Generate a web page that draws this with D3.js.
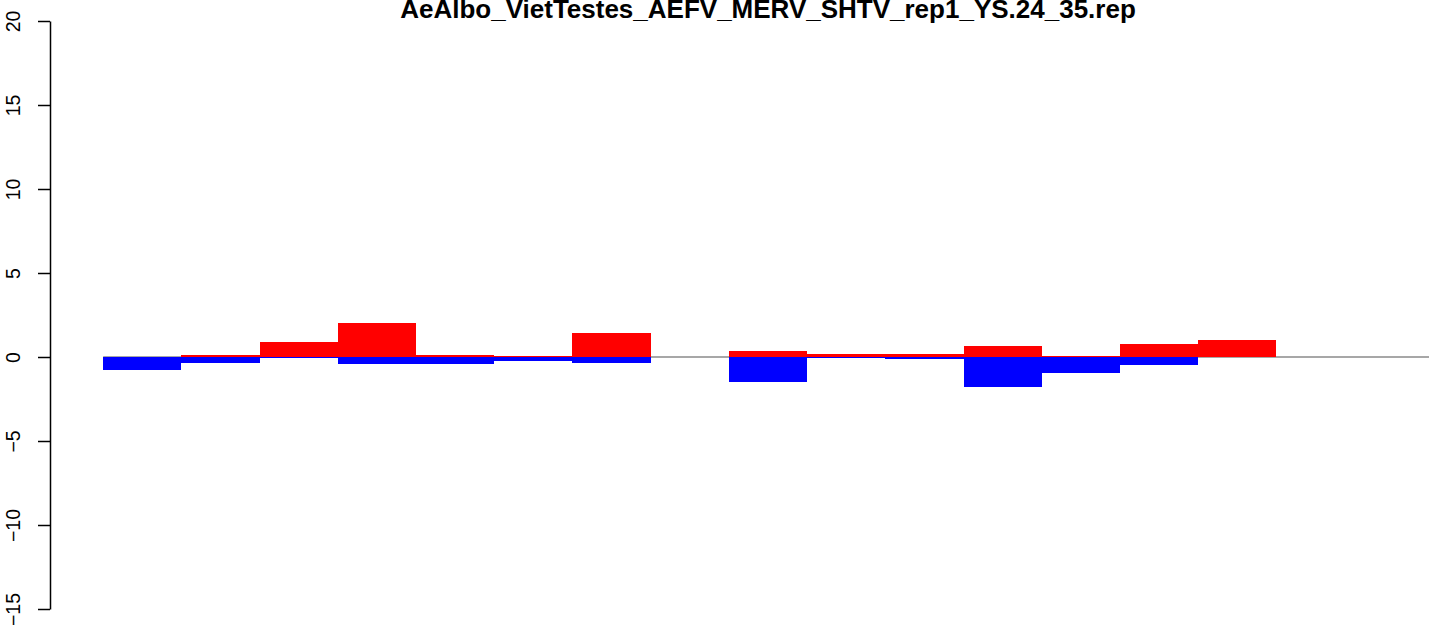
<!DOCTYPE html>
<html>
<head>
<meta charset="utf-8">
<script src="https://cdn.jsdelivr.net/npm/d3@7"></script>
<style>
  html, body { margin: 0; padding: 0; background: #fff; overflow: hidden; }
  svg { display: block; }
</style>
</head>
<body>
<script>
const titleText = "AeAlbo_VietTestes_AEFV_MERV_SHTV_rep1_YS.24_35.rep";
const categories = ["1","2","3","4","5","6","7","8","9","10","11","12","13","14","15","16","17"];
const upValues   = [0, 0.12, 0.90, 2.02, 0.12, 0.07, 1.43, 0, 0.36, 0.18, 0.18, 0.65, 0.06, 0.77, 1.01, 0, 0];
const downValues = [-0.77, -0.34, -0.05, -0.40, -0.40, -0.22, -0.34, 0, -1.47, -0.05, -0.10, -1.79, -0.95, -0.48, 0, 0, 0];
const yTicks = [-15, -10, -5, 0, 5, 10, 15, 20];
const yDomain = [-15, 20];

const W = 1429, H = 626;
const plotL = 50, plotR = 1486, plotT = 21, plotB = 609;

const svg = d3.select("body").append("svg").attr("width", W).attr("height", H);

const ext = (plotR - plotL) * 0.04 / 1.08;
const x = d3.scaleBand().domain(categories).range([plotL + ext, plotR - ext]).padding(0);
const y = d3.scaleLinear().domain(yDomain).range([plotB, plotT]);

// zero line
svg.append("line")
  .attr("x1", x(categories[0])).attr("x2", W + 10)
  .attr("y1", y(0)).attr("y2", y(0))
  .attr("stroke", "#8a8a8a").attr("stroke-width", 1.5);

// red bars (positive)
svg.append("g").selectAll("rect").data(categories).join("rect")
  .attr("x", d => x(d))
  .attr("width", x.bandwidth())
  .attr("y", (d, i) => y(Math.max(0, upValues[i])))
  .attr("height", (d, i) => Math.abs(y(upValues[i]) - y(0)))
  .attr("fill", "#ff0000")
  .attr("shape-rendering", "crispEdges");

// blue bars (negative)
svg.append("g").selectAll("rect").data(categories).join("rect")
  .attr("x", d => x(d))
  .attr("width", x.bandwidth())
  .attr("y", (d, i) => y(Math.max(0, downValues[i])))
  .attr("height", (d, i) => Math.abs(y(downValues[i]) - y(0)))
  .attr("fill", "#0000ff")
  .attr("shape-rendering", "crispEdges");

// y axis
const axis = d3.axisLeft(y).tickValues(yTicks).tickSize(12).tickSizeOuter(0).tickFormat(d => d < 0 ? "\u2212" + Math.abs(d) : d);
const gAxis = svg.append("g").attr("transform", `translate(${plotL},0)`).call(axis);
gAxis.select(".domain").attr("stroke", "#000").attr("stroke-width", 1.5);
gAxis.selectAll(".tick line").attr("stroke", "#000").attr("stroke-width", 1.5);
gAxis.selectAll(".tick text")
  .attr("font-family", "Liberation Sans, Arial, Helvetica, sans-serif")
  .attr("font-size", 19.5)
  .attr("fill", "#000")
  .attr("text-anchor", "middle")
  .attr("dy", 0)
  .attr("x", 0)
  .attr("transform", `translate(${20 - plotL},0) rotate(-90)`);

// title
svg.append("text")
  .attr("x", (plotL + plotR) / 2)
  .attr("y", 18)
  .attr("text-anchor", "middle")
  .attr("font-family", "Liberation Sans, Arial, Helvetica, sans-serif")
  .attr("font-weight", "bold")
  .attr("font-size", 26)
  .attr("fill", "#000")
  .text(titleText);
</script>
</body>
</html>
